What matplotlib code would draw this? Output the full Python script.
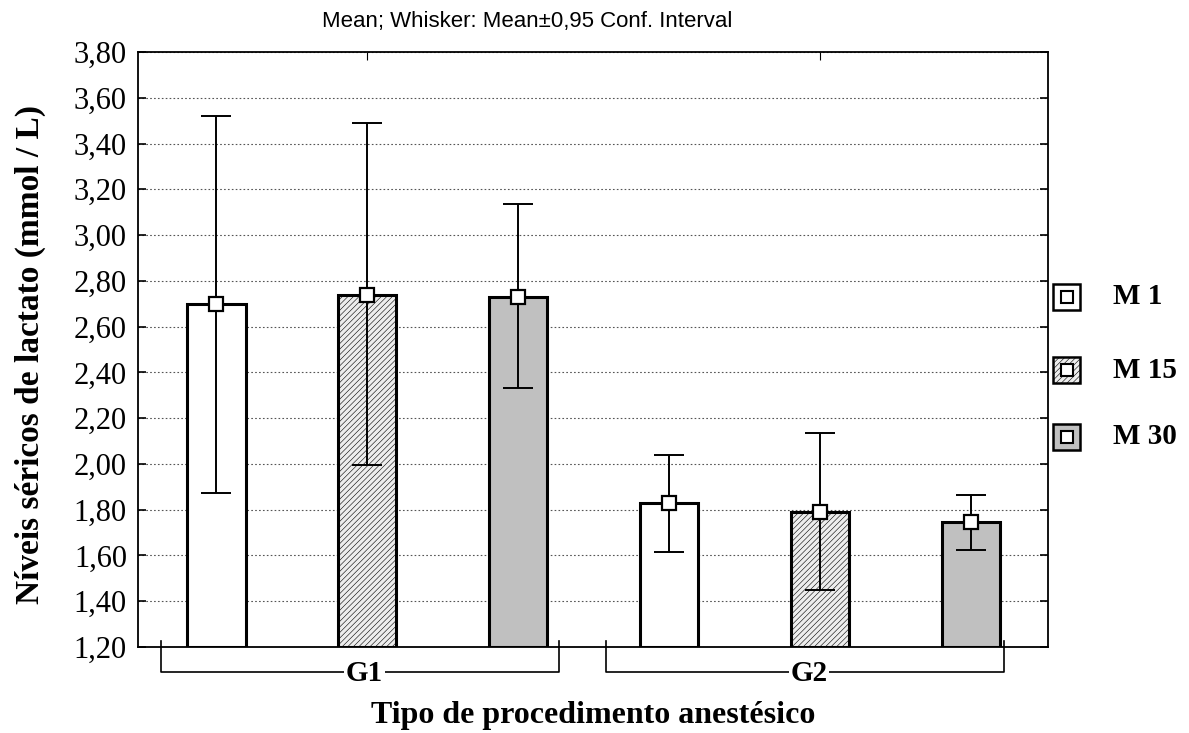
import matplotlib
matplotlib.use("Agg")
import matplotlib.pyplot as plt
from matplotlib.patches import Rectangle
from matplotlib.lines import Line2D
from matplotlib.ticker import FuncFormatter, MultipleLocator
import matplotlib.transforms as mtrans

plt.rcParams['hatch.color'] = '#bdbdbd'
plt.rcParams['hatch.linewidth'] = 0.4

groups = ["G1", "G2"]
moments = ["M 1", "M 15", "M 30"]
means = [[2.70, 2.74, 2.73], [1.83, 1.79, 1.745]]
ci_low = [[1.875, 1.995, 2.33], [1.615, 1.45, 1.625]]
ci_high = [[3.52, 3.49, 3.135], [2.04, 2.135, 1.865]]

colors = ["white", "#ededed", "#c0c0c0"]
hatches = [None, "//////", None]

W, H = 1189, 733
fig = plt.figure(figsize=(W / 100, H / 100), dpi=100)
ax = fig.add_axes([138 / W, 1 - 647 / H, (1048 - 138) / W, (647 - 52) / H])

serif = "Liberation Serif"
pos = 0
for g in range(len(groups)):
    for m in range(len(moments)):
        mu = means[g][m]
        ax.bar(pos, mu - 1.2, bottom=1.2, width=0.39, color=colors[m],
               hatch=hatches[m], edgecolor="black", linewidth=2.2, zorder=3)
        ax.errorbar(pos, mu, yerr=[[mu - ci_low[g][m]], [ci_high[g][m] - mu]],
                    fmt="none", ecolor="black", elinewidth=1.4, capsize=11,
                    capthick=1.4, zorder=4)
        ax.plot(pos, mu, marker="s", markersize=10, markerfacecolor="white",
                markeredgecolor="black", markeredgewidth=1.6, zorder=5)
        pos += 1

ax.set_xlim(-0.517, 5.51)
ax.set_ylim(1.2, 3.8)
ax.yaxis.set_major_locator(MultipleLocator(0.2))
ax.yaxis.set_major_formatter(FuncFormatter(lambda v, p: f"{v:.2f}".replace(".", ",")))
ax.grid(axis="y", linestyle=(0, (1.5, 2)), color="#555555", linewidth=0.8, zorder=0)
ax.set_xticks([1, 4])
ax.set_xticklabels([])
ax.tick_params(axis="x", which="both", bottom=False, top=True, direction="in", length=6)
ax.tick_params(axis="y", left=True, right=True, direction="in", length=6, width=1.2,
               labelsize=22, pad=8)
for lab in ax.get_yticklabels():
    lab.set_fontfamily(serif)
for s in ax.spines.values():
    s.set_linewidth(1.3)

# group brackets
trans = mtrans.blended_transform_factory(ax.transData, ax.transAxes)
bracket_bottom = -25 / 595
brackets = [(-0.364, 2.27), (2.58, 5.22)]
for (x0, x1), name in zip(brackets, groups):
    ax.plot([x0, x0, x1, x1], [0.01, bracket_bottom, bracket_bottom, 0.01],
            color="black", linewidth=1.2, transform=trans, clip_on=False)
    xc = (x0 + x1) / 2
    ax.text(xc + 0.03, bracket_bottom - 0.002, name, transform=trans, ha="center",
            va="center", fontsize=21, fontweight="bold", family=serif,
            bbox=dict(facecolor="white", edgecolor="none", pad=1), zorder=6)

fig.text(30 / W, 1 - 354 / H, "Níveis séricos de lactato (mmol / L)", rotation=90,
         ha="center", va="center", fontsize=24, fontweight="bold", family=serif)
fig.text(593 / W, 1 - 716 / H, "Tipo de procedimento anestésico", ha="center",
         va="center", fontsize=23, fontweight="bold", family=serif)
fig.text(527 / W, 1 - 22 / H, "Mean; Whisker: Mean±0,95 Conf. Interval",
         ha="center", va="center", fontsize=16, family="Liberation Sans")

# legend
leg_y = [297, 370, 437]
for m, yy in enumerate(leg_y):
    r = Rectangle(((1053) / W, 1 - (yy + 13) / H), 27 / W, 26 / H,
                  transform=fig.transFigure, facecolor=colors[m], hatch=hatches[m],
                  edgecolor="black", linewidth=1.8)
    fig.add_artist(r)
    fig.add_artist(Line2D([1066.5 / W], [1 - yy / H], marker="s", markersize=8,
                          markerfacecolor="white", markeredgecolor="black",
                          markeredgewidth=1.5, transform=fig.transFigure))
    fig.text(1113 / W, 1 - yy / H, moments[m], ha="left", va="center",
             fontsize=21, fontweight="bold", family=serif)

fig.savefig("out.png", dpi=100)
